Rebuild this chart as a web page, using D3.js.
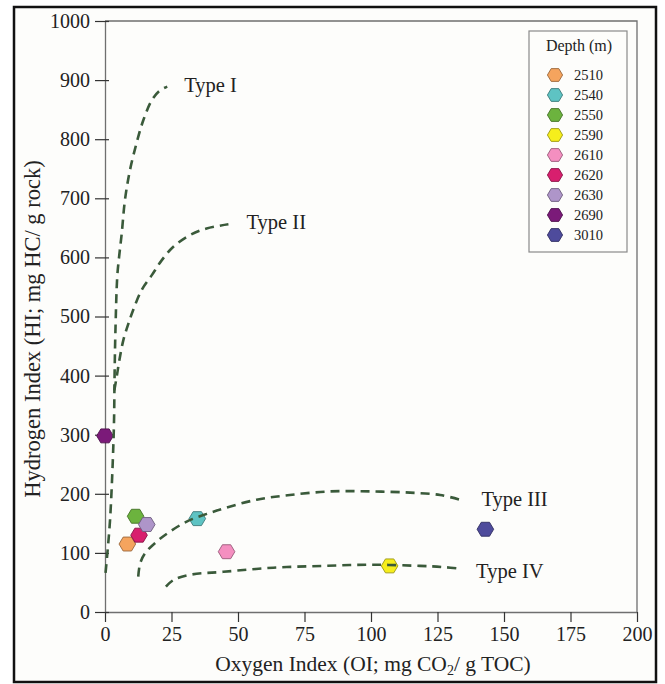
<!DOCTYPE html>
<html>
<head>
<meta charset="utf-8">
<script src="https://cdn.jsdelivr.net/npm/d3@7"></script>
<style>
html,body{margin:0;padding:0;background:#ffffff;}
svg{display:block;}
text{font-family:"Liberation Serif","Times New Roman",serif;fill:#222;}
</style>
</head>
<body>
<svg id="chart" width="665" height="684"></svg>
<script>
// ---------- data ----------
const depths = ["2510","2540","2550","2590","2610","2620","2630","2690","3010"];
const colors = ["#f5a45e","#5ec3c3","#6cb33e","#f6ee1c","#f48fc0","#d81f6e","#ae95c9","#7b1a79","#4e4b9c"];
const oiValues = [8.4, 34.7, 11.5, 107, 45.7, 12.8, 15.7, 0, 143];
const hiValues = [115, 158, 162, 78, 102, 130, 148, 298, 140];

const xTicks = [0,25,50,75,100,125,150,175,200];
const yTicks = [0,100,200,300,400,500,600,700,800,900,1000];

const typeLabels = ["Type I","Type II","Type III","Type IV"];
const typeIOI = [0.2,0.9,1.9,2.9,3.4,3.6,3.9,4.6,5.3,6.3,7.5,9.4,11.9,14.4,17.6,20.5,23.4];
const typeIHI = [66,100,156,252,325,400,472,567,601,641,697,748,794,832,866,882,889];
const typeIIOI = [3.5,4.4,5.4,6.9,8.8,10.6,13.8,17.6,21.3,25.7,32,38.2,46.4];
const typeIIHI = [375,398,426,460,488,511,545,570,595,618,638,649,656];
const typeIIIOI = [12.5,13.2,15,19.4,24.4,30.7,37,44.5,57,69.5,84.6,100,114.7,126,133.5];
const typeIIIHI = [60,82,99,119,136,153,164,175,190,198,204,204,202,198,190];
const typeIVOI = [22.9,25.7,32,44.5,63.3,82,100,118.4,127.2,134];
const typeIVHI = [43,54,63,68,75,78,80,78,76,73];
// label anchor positions (data coords)
const labelOI = [29.8, 53.2, 141.5, 139.5];
const labelHI = [880, 648, 180, 58];

// ---------- layout ----------
const svg = d3.select("#chart");
const X0 = 105, X1 = 637, Y0 = 612, Y1 = 21;
const x = d3.scaleLinear().domain([0,200]).range([X0,X1]);
const y = d3.scaleLinear().domain([0,1000]).range([Y0,Y1]);

// background and outer frame
svg.append("rect").attr("x",14).attr("y",7).attr("width",642).attr("height",675)
  .attr("fill","#fdfdfb").attr("stroke","#111").attr("stroke-width",2.5);

// plot box (top & right)
svg.append("path")
  .attr("d",`M${X0},${Y1}H${X1}V${Y0}`)
  .attr("fill","none").attr("stroke","#6f6f6f").attr("stroke-width",1.3);

// axes
const xAxis = svg.append("g").attr("transform",`translate(0,${Y0})`)
  .call(d3.axisBottom(x).tickValues(xTicks).tickSize(10).tickSizeOuter(0).tickPadding(5).tickFormat(d3.format("d")));
const yAxis = svg.append("g").attr("transform",`translate(${X0},0)`)
  .call(d3.axisLeft(y).tickValues(yTicks).tickSize(10).tickSizeOuter(0).tickPadding(5).tickFormat(d3.format("d")));
[xAxis,yAxis].forEach(g=>{
  g.select(".domain").attr("stroke","#6f6f6f").attr("stroke-width",1.3);
  g.selectAll(".tick line").attr("stroke","#333").attr("stroke-width",1.2);
  g.selectAll(".tick text").attr("font-size",20).attr("fill","#222")
    .attr("font-family","'Liberation Serif','Times New Roman',serif");
});
yAxis.selectAll(".tick line").attr("x1",4);

// axis titles
const xt = svg.append("text").attr("x",373).attr("y",671).attr("text-anchor","middle").attr("font-size",21.5);
xt.append("tspan").text("Oxygen Index (OI; mg CO");
xt.append("tspan").attr("font-size",14).attr("dy",4).text("2");
xt.append("tspan").attr("dy",-4).text("/ g TOC)");

svg.append("text").attr("transform","translate(40,329) rotate(-90)")
  .attr("text-anchor","middle").attr("font-size",22.5)
  .text("Hydrogen Index (HI; mg HC/ g rock)");

// hexagon path
function hexPath(r){
  const p = d3.path();
  for(let i=0;i<6;i++){
    const a = Math.PI/3*i;
    const px = r*Math.cos(a), py = r*Math.sin(a)*0.97;
    if(i===0) p.moveTo(px,py); else p.lineTo(px,py);
  }
  p.closePath();
  return p.toString();
}

// points
const pts = depths.map((d,i)=>({d, c:colors[i], oi:oiValues[i], hi:hiValues[i]}));
svg.append("g").selectAll("path").data(pts).join("path")
  .attr("d",hexPath(8.3))
  .attr("transform",p=>`translate(${x(p.oi)},${y(p.hi)})`)
  .attr("fill",p=>p.c)
  .attr("stroke",p=>d3.color(p.c).darker(1.3))
  .attr("stroke-width",0.9);

// type curves
const curves = [
  typeIOI.map((v,i)=>[v,typeIHI[i]]),
  typeIIOI.map((v,i)=>[v,typeIIHI[i]]),
  typeIIIOI.map((v,i)=>[v,typeIIIHI[i]]),
  typeIVOI.map((v,i)=>[v,typeIVHI[i]])
];
const line = d3.line().x(d=>x(d[0])).y(d=>y(d[1])).curve(d3.curveCatmullRom.alpha(0.5));
svg.append("g").selectAll("path").data(curves).join("path")
  .attr("d",line).attr("fill","none")
  .attr("stroke","#3a5a3a").attr("stroke-width",2.6)
  .attr("stroke-dasharray","9,6");

svg.append("g").selectAll("text").data(typeLabels).join("text")
  .attr("x",(d,i)=>x(labelOI[i])).attr("y",(d,i)=>y(labelHI[i]))
  .attr("font-size",20.5).text(d=>d);

// legend
const lg = svg.append("g");
lg.append("rect").attr("x",529).attr("y",31).attr("width",98).attr("height",221)
  .attr("fill","#fdfdfb").attr("stroke","#8a8a8a").attr("stroke-width",1.2);
lg.append("text").attr("x",579).attr("y",51).attr("text-anchor","middle").attr("font-size",16).text("Depth (m)");
const li = lg.selectAll("g.item").data(pts).join("g").attr("class","item")
  .attr("transform",(p,i)=>`translate(555,${75+i*20})`);
li.append("path").attr("d",hexPath(7.6)).attr("fill",p=>p.c)
  .attr("stroke",p=>d3.color(p.c).darker(1.3)).attr("stroke-width",0.9);
li.append("text").attr("x",19).attr("y",5).attr("font-size",14.5).text(p=>p.d);
</script>
</body>
</html>
